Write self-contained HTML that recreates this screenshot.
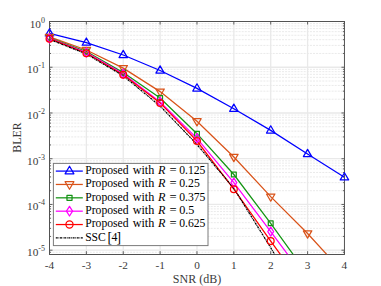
<!DOCTYPE html><html><head><meta charset="utf-8"><style>html,body{margin:0;padding:0;background:#fff;}svg{display:block}text{font-family:"Liberation Serif",serif;}</style></head><body>
<svg width="381" height="286" viewBox="0 0 381 286">
<rect width="381" height="286" fill="#fff"/>
<defs><clipPath id="ax"><rect x="49.5" y="21.5" width="294.95" height="232.7"/></clipPath></defs>
<path d="M49.5,53.47H344.45M49.5,45.42H344.45M49.5,39.70H344.45M49.5,35.27H344.45M49.5,31.65H344.45M49.5,28.59H344.45M49.5,25.93H344.45M49.5,23.59H344.45M49.5,99.21H344.45M49.5,91.16H344.45M49.5,85.44H344.45M49.5,81.01H344.45M49.5,77.39H344.45M49.5,74.33H344.45M49.5,71.67H344.45M49.5,69.33H344.45M49.5,144.95H344.45M49.5,136.90H344.45M49.5,131.18H344.45M49.5,126.75H344.45M49.5,123.13H344.45M49.5,120.07H344.45M49.5,117.41H344.45M49.5,115.07H344.45M49.5,190.69H344.45M49.5,182.64H344.45M49.5,176.92H344.45M49.5,172.49H344.45M49.5,168.87H344.45M49.5,165.81H344.45M49.5,163.15H344.45M49.5,160.81H344.45M49.5,236.43H344.45M49.5,228.38H344.45M49.5,222.66H344.45M49.5,218.23H344.45M49.5,214.61H344.45M49.5,211.55H344.45M49.5,208.89H344.45M49.5,206.55H344.45M49.5,252.29H344.45" stroke="#e4e4e4" stroke-width="0.8" stroke-dasharray="2 1.1" fill="none"/>
<path d="M86.37,21.5V254.2M123.24,21.5V254.2M160.11,21.5V254.2M196.97,21.5V254.2M233.84,21.5V254.2M270.71,21.5V254.2M307.58,21.5V254.2M49.5,67.24H344.45M49.5,112.98H344.45M49.5,158.72H344.45M49.5,204.46H344.45M49.5,250.20H344.45" stroke="#e9e9e9" stroke-width="1.3" fill="none"/>
<path d="M49.50,254.2v-3M49.50,21.5v3M86.37,254.2v-3M86.37,21.5v3M123.24,254.2v-3M123.24,21.5v3M160.11,254.2v-3M160.11,21.5v3M196.97,254.2v-3M196.97,21.5v3M233.84,254.2v-3M233.84,21.5v3M270.71,254.2v-3M270.71,21.5v3M307.58,254.2v-3M307.58,21.5v3M344.45,254.2v-3M344.45,21.5v3M49.5,21.50h3M344.45,21.50h-3M49.5,67.24h3M344.45,67.24h-3M49.5,112.98h3M344.45,112.98h-3M49.5,158.72h3M344.45,158.72h-3M49.5,204.46h3M344.45,204.46h-3M49.5,250.20h3M344.45,250.20h-3M49.5,53.47h1.5M344.45,53.47h-1.5M49.5,45.42h1.5M344.45,45.42h-1.5M49.5,39.70h1.5M344.45,39.70h-1.5M49.5,35.27h1.5M344.45,35.27h-1.5M49.5,31.65h1.5M344.45,31.65h-1.5M49.5,28.59h1.5M344.45,28.59h-1.5M49.5,25.93h1.5M344.45,25.93h-1.5M49.5,23.59h1.5M344.45,23.59h-1.5M49.5,99.21h1.5M344.45,99.21h-1.5M49.5,91.16h1.5M344.45,91.16h-1.5M49.5,85.44h1.5M344.45,85.44h-1.5M49.5,81.01h1.5M344.45,81.01h-1.5M49.5,77.39h1.5M344.45,77.39h-1.5M49.5,74.33h1.5M344.45,74.33h-1.5M49.5,71.67h1.5M344.45,71.67h-1.5M49.5,69.33h1.5M344.45,69.33h-1.5M49.5,144.95h1.5M344.45,144.95h-1.5M49.5,136.90h1.5M344.45,136.90h-1.5M49.5,131.18h1.5M344.45,131.18h-1.5M49.5,126.75h1.5M344.45,126.75h-1.5M49.5,123.13h1.5M344.45,123.13h-1.5M49.5,120.07h1.5M344.45,120.07h-1.5M49.5,117.41h1.5M344.45,117.41h-1.5M49.5,115.07h1.5M344.45,115.07h-1.5M49.5,190.69h1.5M344.45,190.69h-1.5M49.5,182.64h1.5M344.45,182.64h-1.5M49.5,176.92h1.5M344.45,176.92h-1.5M49.5,172.49h1.5M344.45,172.49h-1.5M49.5,168.87h1.5M344.45,168.87h-1.5M49.5,165.81h1.5M344.45,165.81h-1.5M49.5,163.15h1.5M344.45,163.15h-1.5M49.5,160.81h1.5M344.45,160.81h-1.5M49.5,236.43h1.5M344.45,236.43h-1.5M49.5,228.38h1.5M344.45,228.38h-1.5M49.5,222.66h1.5M344.45,222.66h-1.5M49.5,218.23h1.5M344.45,218.23h-1.5M49.5,214.61h1.5M344.45,214.61h-1.5M49.5,211.55h1.5M344.45,211.55h-1.5M49.5,208.89h1.5M344.45,208.89h-1.5M49.5,206.55h1.5M344.45,206.55h-1.5M49.5,252.29h1.5M344.45,252.29h-1.5" stroke="#525252" stroke-width="0.9" fill="none"/>
<rect x="49.5" y="21.5" width="294.95" height="233.00" fill="none" stroke="#525252" stroke-width="1"/>
<g clip-path="url(#ax)">
<polyline points="49.50,33.30 86.37,42.60 123.24,55.00 160.11,70.50 196.97,88.40 233.84,108.70 270.71,130.40 307.58,154.00 344.45,177.30" fill="none" stroke="#0000ff" stroke-width="1.25"/>
<polyline points="49.50,36.90 86.37,50.00 123.24,68.10 160.11,91.60 196.97,121.30 233.84,157.00 270.71,196.60 307.58,233.50 344.45,273.80" fill="none" stroke="#d95319" stroke-width="1.25"/>
<polyline points="49.50,37.80 86.37,51.50 123.24,72.60 160.11,98.00 196.97,133.70 233.84,174.50 270.71,223.30 307.58,274.50" fill="none" stroke="#149414" stroke-width="1.25"/>
<polyline points="49.50,38.30 86.37,52.60 123.24,73.80 160.11,102.00 196.97,138.30 233.84,182.60 270.71,231.60 307.58,281.10" fill="none" stroke="#ff00ff" stroke-width="1.25"/>
<polyline points="49.50,38.70 86.37,53.20 123.24,74.80 160.11,102.90 196.97,141.00 233.84,189.20 270.71,241.10 307.58,291.80" fill="none" stroke="#ff0000" stroke-width="1.25"/>
<polyline points="49.50,39.30 86.37,54.00 123.24,75.80 160.11,106.00 196.97,144.50 233.84,188.30 270.71,247.70 307.58,311.00" fill="none" stroke="#000000" stroke-width="1.25" stroke-dasharray="2 0.7 0.8 0.7"/>
</g>
<polygon points="49.50,28.70 53.70,35.90 45.30,35.90" fill="none" stroke="#0000ff" stroke-width="1.25" stroke-linejoin="round"/>
<polygon points="86.37,38.00 90.57,45.20 82.17,45.20" fill="none" stroke="#0000ff" stroke-width="1.25" stroke-linejoin="round"/>
<polygon points="123.24,50.40 127.44,57.60 119.04,57.60" fill="none" stroke="#0000ff" stroke-width="1.25" stroke-linejoin="round"/>
<polygon points="160.11,65.90 164.31,73.10 155.91,73.10" fill="none" stroke="#0000ff" stroke-width="1.25" stroke-linejoin="round"/>
<polygon points="196.97,83.80 201.17,91.00 192.78,91.00" fill="none" stroke="#0000ff" stroke-width="1.25" stroke-linejoin="round"/>
<polygon points="233.84,104.10 238.04,111.30 229.64,111.30" fill="none" stroke="#0000ff" stroke-width="1.25" stroke-linejoin="round"/>
<polygon points="270.71,125.80 274.91,133.00 266.51,133.00" fill="none" stroke="#0000ff" stroke-width="1.25" stroke-linejoin="round"/>
<polygon points="307.58,149.40 311.78,156.60 303.38,156.60" fill="none" stroke="#0000ff" stroke-width="1.25" stroke-linejoin="round"/>
<polygon points="344.45,172.70 348.65,179.90 340.25,179.90" fill="none" stroke="#0000ff" stroke-width="1.25" stroke-linejoin="round"/>
<polygon points="49.50,41.50 53.70,34.30 45.30,34.30" fill="none" stroke="#d95319" stroke-width="1.25" stroke-linejoin="round"/>
<polygon points="86.37,54.60 90.57,47.40 82.17,47.40" fill="none" stroke="#d95319" stroke-width="1.25" stroke-linejoin="round"/>
<polygon points="123.24,72.70 127.44,65.50 119.04,65.50" fill="none" stroke="#d95319" stroke-width="1.25" stroke-linejoin="round"/>
<polygon points="160.11,96.20 164.31,89.00 155.91,89.00" fill="none" stroke="#d95319" stroke-width="1.25" stroke-linejoin="round"/>
<polygon points="196.97,125.90 201.17,118.70 192.78,118.70" fill="none" stroke="#d95319" stroke-width="1.25" stroke-linejoin="round"/>
<polygon points="233.84,161.60 238.04,154.40 229.64,154.40" fill="none" stroke="#d95319" stroke-width="1.25" stroke-linejoin="round"/>
<polygon points="270.71,201.20 274.91,194.00 266.51,194.00" fill="none" stroke="#d95319" stroke-width="1.25" stroke-linejoin="round"/>
<polygon points="307.58,238.10 311.78,230.90 303.38,230.90" fill="none" stroke="#d95319" stroke-width="1.25" stroke-linejoin="round"/>
<rect x="47.10" y="35.40" width="4.80" height="4.80" fill="none" stroke="#149414" stroke-width="1.25" stroke-linejoin="round"/>
<rect x="83.97" y="49.10" width="4.80" height="4.80" fill="none" stroke="#149414" stroke-width="1.25" stroke-linejoin="round"/>
<rect x="120.84" y="70.20" width="4.80" height="4.80" fill="none" stroke="#149414" stroke-width="1.25" stroke-linejoin="round"/>
<rect x="157.71" y="95.60" width="4.80" height="4.80" fill="none" stroke="#149414" stroke-width="1.25" stroke-linejoin="round"/>
<rect x="194.57" y="131.30" width="4.80" height="4.80" fill="none" stroke="#149414" stroke-width="1.25" stroke-linejoin="round"/>
<rect x="231.44" y="172.10" width="4.80" height="4.80" fill="none" stroke="#149414" stroke-width="1.25" stroke-linejoin="round"/>
<rect x="268.31" y="220.90" width="4.80" height="4.80" fill="none" stroke="#149414" stroke-width="1.25" stroke-linejoin="round"/>
<polygon points="49.50,33.70 52.40,38.30 49.50,42.90 46.60,38.30" fill="none" stroke="#ff00ff" stroke-width="1.25" stroke-linejoin="round"/>
<polygon points="86.37,48.00 89.27,52.60 86.37,57.20 83.47,52.60" fill="none" stroke="#ff00ff" stroke-width="1.25" stroke-linejoin="round"/>
<polygon points="123.24,69.20 126.14,73.80 123.24,78.40 120.34,73.80" fill="none" stroke="#ff00ff" stroke-width="1.25" stroke-linejoin="round"/>
<polygon points="160.11,97.40 163.01,102.00 160.11,106.60 157.21,102.00" fill="none" stroke="#ff00ff" stroke-width="1.25" stroke-linejoin="round"/>
<polygon points="196.97,133.70 199.88,138.30 196.97,142.90 194.07,138.30" fill="none" stroke="#ff00ff" stroke-width="1.25" stroke-linejoin="round"/>
<polygon points="233.84,178.00 236.74,182.60 233.84,187.20 230.94,182.60" fill="none" stroke="#ff00ff" stroke-width="1.25" stroke-linejoin="round"/>
<polygon points="270.71,227.00 273.61,231.60 270.71,236.20 267.81,231.60" fill="none" stroke="#ff00ff" stroke-width="1.25" stroke-linejoin="round"/>
<circle cx="49.50" cy="38.70" r="3.40" fill="none" stroke="#ff0000" stroke-width="1.25" stroke-linejoin="round"/>
<circle cx="86.37" cy="53.20" r="3.40" fill="none" stroke="#ff0000" stroke-width="1.25" stroke-linejoin="round"/>
<circle cx="123.24" cy="74.80" r="3.40" fill="none" stroke="#ff0000" stroke-width="1.25" stroke-linejoin="round"/>
<circle cx="160.11" cy="102.90" r="3.40" fill="none" stroke="#ff0000" stroke-width="1.25" stroke-linejoin="round"/>
<circle cx="196.97" cy="141.00" r="3.40" fill="none" stroke="#ff0000" stroke-width="1.25" stroke-linejoin="round"/>
<circle cx="233.84" cy="189.20" r="3.40" fill="none" stroke="#ff0000" stroke-width="1.25" stroke-linejoin="round"/>
<circle cx="270.71" cy="241.10" r="3.40" fill="none" stroke="#ff0000" stroke-width="1.25" stroke-linejoin="round"/>
<text x="49.50" y="268.6" font-size="11.3" fill="#3a3a3a" text-anchor="middle">-4</text>
<text x="86.37" y="268.6" font-size="11.3" fill="#3a3a3a" text-anchor="middle">-3</text>
<text x="123.24" y="268.6" font-size="11.3" fill="#3a3a3a" text-anchor="middle">-2</text>
<text x="160.11" y="268.6" font-size="11.3" fill="#3a3a3a" text-anchor="middle">-1</text>
<text x="196.97" y="268.6" font-size="11.3" fill="#3a3a3a" text-anchor="middle">0</text>
<text x="233.84" y="268.6" font-size="11.3" fill="#3a3a3a" text-anchor="middle">1</text>
<text x="270.71" y="268.6" font-size="11.3" fill="#3a3a3a" text-anchor="middle">2</text>
<text x="307.58" y="268.6" font-size="11.3" fill="#3a3a3a" text-anchor="middle">3</text>
<text x="344.45" y="268.6" font-size="11.3" fill="#3a3a3a" text-anchor="middle">4</text>
<text x="45.0" y="27.50" font-size="11.3" fill="#3a3a3a" text-anchor="end">10<tspan font-size="8" dy="-5">0</tspan></text>
<text x="45.0" y="73.24" font-size="11.3" fill="#3a3a3a" text-anchor="end">10<tspan font-size="8" dy="-5">-1</tspan></text>
<text x="45.0" y="118.98" font-size="11.3" fill="#3a3a3a" text-anchor="end">10<tspan font-size="8" dy="-5">-2</tspan></text>
<text x="45.0" y="164.72" font-size="11.3" fill="#3a3a3a" text-anchor="end">10<tspan font-size="8" dy="-5">-3</tspan></text>
<text x="45.0" y="210.46" font-size="11.3" fill="#3a3a3a" text-anchor="end">10<tspan font-size="8" dy="-5">-4</tspan></text>
<text x="45.0" y="256.20" font-size="11.3" fill="#3a3a3a" text-anchor="end">10<tspan font-size="8" dy="-5">-5</tspan></text>
<text x="196.97" y="282.6" font-size="12" fill="#3a3a3a" text-anchor="middle">SNR (dB)</text>
<text transform="translate(21.2,137.55) rotate(-90)" x="0" y="0" font-size="11.8" fill="#3a3a3a" text-anchor="middle">BLER</text>
<rect x="53.4" y="163.4" width="154.60" height="82.20" fill="#fff" stroke="#7a7a7a" stroke-width="1"/>
<line x1="55.8" y1="171.10" x2="82.8" y2="171.10" stroke="#0000ff" stroke-width="1.25"/>
<polygon points="69.50,166.27 73.91,173.83 65.09,173.83" fill="none" stroke="#0000ff" stroke-width="1.25" stroke-linejoin="round"/>
<text x="85.20" y="173.90" font-size="11.8" fill="#000" textLength="43.40" lengthAdjust="spacingAndGlyphs">Proposed</text>
<text x="132.70" y="173.90" font-size="11.8" fill="#000" textLength="21.60" lengthAdjust="spacingAndGlyphs">with</text>
<text x="158.0" y="173.90" font-size="12.2" fill="#000" font-style="italic">R</text>
<text x="173.1" y="173.90" font-size="12.6" fill="#000" text-anchor="middle">=</text>
<text x="179.20" y="173.90" font-size="11.8" fill="#000" textLength="26.20" lengthAdjust="spacingAndGlyphs">0.125</text>
<line x1="55.8" y1="184.46" x2="82.8" y2="184.46" stroke="#d95319" stroke-width="1.25"/>
<polygon points="69.50,189.29 73.91,181.73 65.09,181.73" fill="none" stroke="#d95319" stroke-width="1.25" stroke-linejoin="round"/>
<text x="85.20" y="187.26" font-size="11.8" fill="#000" textLength="43.40" lengthAdjust="spacingAndGlyphs">Proposed</text>
<text x="132.70" y="187.26" font-size="11.8" fill="#000" textLength="21.60" lengthAdjust="spacingAndGlyphs">with</text>
<text x="158.0" y="187.26" font-size="12.2" fill="#000" font-style="italic">R</text>
<text x="173.1" y="187.26" font-size="12.6" fill="#000" text-anchor="middle">=</text>
<text x="179.20" y="187.26" font-size="11.8" fill="#000" textLength="20.60" lengthAdjust="spacingAndGlyphs">0.25</text>
<line x1="55.8" y1="197.82" x2="82.8" y2="197.82" stroke="#149414" stroke-width="1.25"/>
<rect x="66.98" y="195.30" width="5.04" height="5.04" fill="none" stroke="#149414" stroke-width="1.25" stroke-linejoin="round"/>
<text x="85.20" y="200.62" font-size="11.8" fill="#000" textLength="43.40" lengthAdjust="spacingAndGlyphs">Proposed</text>
<text x="132.70" y="200.62" font-size="11.8" fill="#000" textLength="21.60" lengthAdjust="spacingAndGlyphs">with</text>
<text x="158.0" y="200.62" font-size="12.2" fill="#000" font-style="italic">R</text>
<text x="173.1" y="200.62" font-size="12.6" fill="#000" text-anchor="middle">=</text>
<text x="179.20" y="200.62" font-size="11.8" fill="#000" textLength="26.20" lengthAdjust="spacingAndGlyphs">0.375</text>
<line x1="55.8" y1="211.18" x2="82.8" y2="211.18" stroke="#ff00ff" stroke-width="1.25"/>
<polygon points="69.50,206.35 72.55,211.18 69.50,216.01 66.45,211.18" fill="none" stroke="#ff00ff" stroke-width="1.25" stroke-linejoin="round"/>
<text x="85.20" y="213.98" font-size="11.8" fill="#000" textLength="43.40" lengthAdjust="spacingAndGlyphs">Proposed</text>
<text x="132.70" y="213.98" font-size="11.8" fill="#000" textLength="21.60" lengthAdjust="spacingAndGlyphs">with</text>
<text x="158.0" y="213.98" font-size="12.2" fill="#000" font-style="italic">R</text>
<text x="173.1" y="213.98" font-size="12.6" fill="#000" text-anchor="middle">=</text>
<text x="179.20" y="213.98" font-size="11.8" fill="#000" textLength="15.20" lengthAdjust="spacingAndGlyphs">0.5</text>
<line x1="55.8" y1="224.54" x2="82.8" y2="224.54" stroke="#ff0000" stroke-width="1.25"/>
<circle cx="69.50" cy="224.54" r="3.57" fill="none" stroke="#ff0000" stroke-width="1.25" stroke-linejoin="round"/>
<text x="85.20" y="227.34" font-size="11.8" fill="#000" textLength="43.40" lengthAdjust="spacingAndGlyphs">Proposed</text>
<text x="132.70" y="227.34" font-size="11.8" fill="#000" textLength="21.60" lengthAdjust="spacingAndGlyphs">with</text>
<text x="158.0" y="227.34" font-size="12.2" fill="#000" font-style="italic">R</text>
<text x="173.1" y="227.34" font-size="12.6" fill="#000" text-anchor="middle">=</text>
<text x="179.20" y="227.34" font-size="11.8" fill="#000" textLength="26.20" lengthAdjust="spacingAndGlyphs">0.625</text>
<line x1="55.8" y1="237.90" x2="82.8" y2="237.90" stroke="#000000" stroke-width="1.25" stroke-dasharray="2 0.7 0.8 0.7"/>
<text x="85.20" y="240.70" font-size="11.8" fill="#000" textLength="20.60" lengthAdjust="spacingAndGlyphs">SSC</text>
<text x="107.6" y="242.00" font-size="13.6" fill="#000">[</text>
<text x="111.6" y="240.70" font-size="11.8" fill="#000">4</text>
<text x="116.4" y="242.00" font-size="13.6" fill="#000">]</text>
</svg></body></html>
